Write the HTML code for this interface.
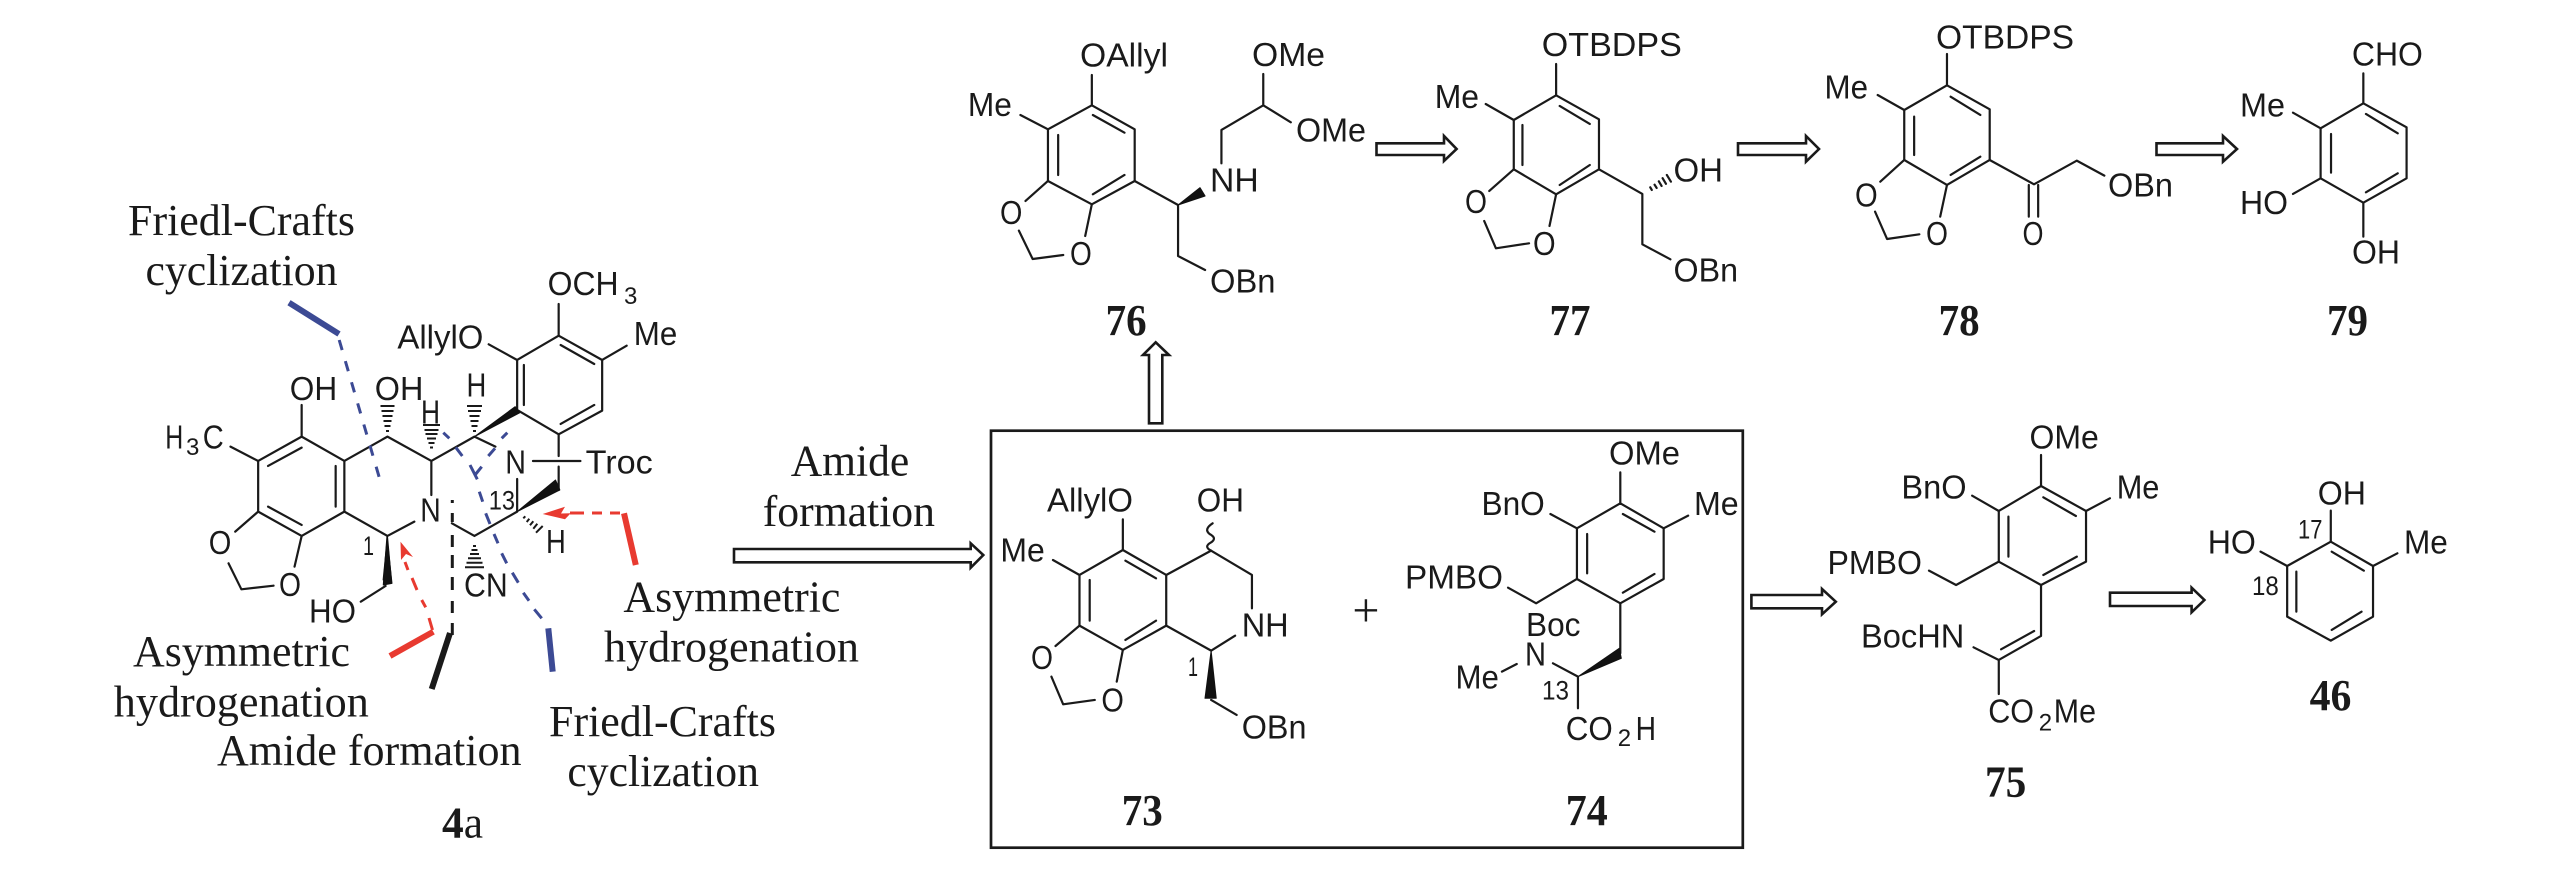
<!DOCTYPE html>
<html>
<head>
<meta charset="utf-8">
<style>
html,body{margin:0;padding:0;background:#fff;width:2567px;height:884px;overflow:hidden}
svg{display:block}
.l path,.l polygon{vector-effect:non-scaling-stroke}
.l{fill:none;stroke:#1a1a1a;stroke-width:2.2;stroke-linecap:round;stroke-linejoin:round}
.f polygon,.f path{fill:#111;stroke:#111;stroke-width:1}
.a{fill:#fff;stroke:#1a1a1a;stroke-width:2.6;stroke-linejoin:miter}
text{fill:#1a1a1a}
.s{font:33px "Liberation Sans",sans-serif}
.n{font:27px "Liberation Sans",sans-serif}
.u{font:24px "Liberation Sans",sans-serif}
.t{font:44px "Liberation Serif",serif}
.b{font:bold 44px "Liberation Serif",serif}
</style>
</head>
<body>
<svg width="2567" height="884" viewBox="0 0 2567 884" xmlns="http://www.w3.org/2000/svg">
<rect width="2567" height="884" fill="#fff"/>

<!-- 4a skeleton -->
<g class="l" transform="translate(100,180) scale(0.3954,0.3333)">
<path d="M510,770L618,843L618,995L510,1068L400,995L400,843Z"/>
<path d="M425,858L510,803M596,858L596,980M425,980L510,1035M510,770L510,675M400,843L330,800M400,995L342,1055M510,1068L492,1160"/>
<path d="M618,843L727,770L838,843L947,770L1000,800M838,843L838,945M795,1025L727,1068L618,995"/>
<path d="M1055,540L1160,467L1270,540L1270,692L1160,763L1055,690Z"/>
<path d="M1072,555L1072,675M1165,495L1250,552M1250,675L1165,732M1160,467L1160,372M1055,540L983,493M1270,540L1332,497M1160,763L1160,828M1095,843L1215,843M1160,860L1160,930M1055,897L1055,995M890,1030L947,1068L1055,995"/>
</g>
<g class="l f" transform="translate(100,180) scale(0.3954,0.3333)">
<polygon points="947,770 1050,680 1062,698"/>
<polygon points="1055,995 1152,900 1163,930"/>
<polygon points="727,1068 716,1200 737,1200"/>
</g>
<g class="l" transform="translate(100,500) scale(0.4591,0.3333)">
<path d="M280,190L308,268L378,257M622,258L568,305"/>
</g>
<g class="l f" transform="translate(100,500) scale(0.4591,0.3333)">
<polygon points="625,108 617,255 636,250"/>
</g>
<!-- hash bonds 4a -->
<g fill="none" stroke="#1a1a1a" stroke-width="2">
<path d="M386,431H389M384.5,426H390.5M383.5,421H391.5M382.5,416H392.5M381.5,411H393.5M380.5,406H394.5"/>
<path d="M430,447.5H433M428.5,443H434.5M427,438.5H436M425.5,434H437.5M424.5,430H438.5M423,425H440"/>
<path d="M473,431H476M471.5,426H477.5M470.5,421H478.5M469.5,416H479.5M468,411H481M467,406H482"/>
<path d="M523.3,518.3L525.3,516.3M526.7,522L529.3,518.7M530,525.3L533.3,521.3M533.3,528.7L537.3,523.7M536,532.7L542.7,526"/>
<path d="M473,546H476M471.5,550H477.5M470,554H479M468,558.3H481M466.5,562.7H482.5M465,567.3H484"/>
</g>
<!-- black dashed + thick -->
<g fill="none" stroke="#1a1a1a">
<path d="M452.3,500V503M452.3,513V522M452.3,535V547M452.3,555V568M452.3,577V590M452.3,601V613M452.3,623V635" stroke-width="3"/>
<path d="M450,633L431.7,689" stroke-width="6"/>
</g>
<!-- blue -->
<g fill="none" stroke="#3c4a94">
<path d="M289,302.7L339,334" stroke-width="6"/>
<path d="M339.2,340L380,480" stroke-width="3" stroke-dasharray="10.5 11.5"/>
<path d="M443.3,432.7L449.3,438.3M455.7,447.3L462.3,456M470,465L477.3,479.3M481.7,466.7L475,475M488.3,456L495,448.3M501.7,438.3L507.3,432.7M479.3,491.7L482.7,501.7M485.7,513.3L490,524M494,534L498,543.3M501.7,553.3L506.7,563.3M512.3,572.7L518.3,582.7M523.3,592.7L529,600.7M534.3,609.3L541.7,618.3" stroke-width="3"/>
<path d="M548.3,628.3L552.7,671.7" stroke-width="6"/>
</g>
<!-- red -->
<g fill="none" stroke="#e83a30">
<path d="M390,656L433.3,631.7" stroke-width="6"/>
<path d="M429,618L432.5,630M421.7,600L425.7,607.3M412,578L417,590M405,562L408,570" stroke-width="3"/>
<path d="M624,513.3L635.8,565" stroke-width="6"/>
<path d="M570,513H584M592,513H602M610,513H620" stroke-width="3"/>
</g>
<polygon points="400.5,541.7 401,560 406,554 413,557" fill="#e83a30"/>
<polygon points="542.7,514 565,506.7 561,513.5 570.7,513.3 565,519.3" fill="#e83a30"/>

<!-- 76 / 77 -->
<g class="l" transform="translate(950,0) scale(0.5102,0.3333)">
<path d="M278,316L362,388L362,543L278,613L192,543L192,388Z"/>
<path d="M280,345L342,398M212,405L212,525M280,583L342,525M278,316L278,225M192,388L138,345M192,543L148,603M278,613L265,708M135,692L162,777L222,765M362,543L447,615L447,768L500,810M532,490L532,390L614,316L668,367M614,316L614,222"/>
<path d="M1188,286L1272,358L1272,508L1188,583L1105,508L1105,360Z"/>
<path d="M1195,318L1254,372M1122,375L1122,495M1195,555L1254,495M1188,286L1188,192M1105,360L1050,312M1105,508L1057,573M1188,583L1175,678M1047,663L1070,745L1135,730M1272,508L1357,582L1357,733L1412,778"/>
<path d="M1372.5,562L1375.5,570M1381,554L1385,564M1389.3,544L1394.7,558M1396.7,534.5L1403.3,551.5M1405,525L1413,545"/>
</g>
<g class="l f" transform="translate(950,0) scale(0.5102,0.3333)">
<polygon points="447,615 490,563 500,588"/>
</g>

<!-- 78 / 79 -->
<g class="l" transform="translate(1750,0) scale(0.5211,0.3333)">
<path d="M378,256L460,328L460,480L378,555L296,480L296,330Z"/>
<path d="M385,290L442,345M315,350L315,465M385,525L442,470M378,256L378,162M296,330L245,285M296,480L250,545M378,555L365,650M240,635L263,717L325,703M460,480L545,553L627,482L680,527M535,555L535,650M553,555L553,650"/>
<path d="M1177,310L1260,382L1260,535L1177,608L1095,535L1095,385Z"/>
<path d="M1182,342L1243,400M1115,402L1115,518M1182,577L1243,520M1177,310L1177,220M1095,385L1042,338M1095,535L1042,582M1177,608L1177,710"/>
</g>

<!-- 73 / 74 -->
<g class="l" transform="translate(980,410) scale(0.5102,0.3333)">
<path d="M280,420L365,495L365,647L280,720L195,647L195,495Z"/>
<path d="M285,452L345,505M215,510L215,632M285,690L345,632M280,420L280,328M195,495L143,450M195,647L148,708M280,720L268,815M140,800L163,883L225,870M365,495L453,422L533,495L533,595M500,677L453,722L365,647M453,870L503,915"/>
<path d="M453,422Q438,410 452,398Q466,385 450,372Q438,358 456,340"/>
<path d="M1255,280L1340,355L1340,507L1255,580L1170,507L1170,355Z"/>
<path d="M1260,312L1322,365M1190,372L1190,490M1260,548L1322,492M1255,280L1255,187M1170,355L1118,312M1340,355L1388,317M1170,507L1090,580L1035,533M1255,580L1255,730M1172,800L1123,760M1052,762L1023,785M1172,800L1172,895"/>
</g>
<g class="l f" transform="translate(980,410) scale(0.5102,0.3333)">
<polygon points="453,722 441,865 463,865"/>
<polygon points="1172,800 1253,715 1257,745"/>
</g>

<!-- 75 / 46 -->
<g class="l" transform="translate(1760,410) scale(0.4592,0.3333)">
<path d="M612,228L710,303L710,455L612,525L520,455L520,303Z"/>
<path d="M617,262L688,318M541,320L541,440M617,495L690,440M612,228L612,135M520,303L462,257M710,303L762,265M520,455L427,525L368,482M612,525L612,678L520,750L465,712M525,718L597,663M520,750L520,852"/>
<path d="M1243,395L1335,468L1335,620L1243,692L1148,620L1148,468Z"/>
<path d="M1245,425L1315,482M1168,485L1168,605M1245,660L1310,605M1243,395L1243,302M1148,468L1090,425M1335,468L1388,430"/>
</g>

<!-- box -->
<rect x="991" y="430.7" width="751.8" height="417" fill="none" stroke="#1a1a1a" stroke-width="2.7"/>

<!-- open arrows -->
<polygon class="a" points="734,549 970.7,549 970.7,543.3 983.3,555 970.7,567.7 970.7,562.3 734,562.3"/>
<polygon class="a" points="1149,423.3 1162.3,423.3 1162.3,355 1169,355 1155.7,342.3 1143,355 1149,355"/>
<polygon class="a" points="1376.5,143.3 1444,143.3 1444,136 1456.6,149 1444,161 1444,155 1376.5,155"/>
<polygon class="a" points="1738,143.3 1806,143.3 1806,136 1819,149 1806,161.7 1806,155 1738,155"/>
<polygon class="a" points="2156.5,143.3 2223,143.3 2223,136 2237,149 2223,161.7 2223,155 2156.5,155"/>
<polygon class="a" points="1751.4,595 1822,595 1822,589 1835.8,601.7 1822,614.3 1822,608.3 1751.4,608.3"/>
<polygon class="a" points="2110,592.7 2191.6,592.7 2191.6,587.7 2204.4,600 2191.6,612.3 2191.6,606 2110,606"/>

<!-- serif labels -->
<text class="t" x="128" y="235" textLength="227" lengthAdjust="spacingAndGlyphs">Friedl-Crafts</text>
<text class="t" x="145.5" y="285" textLength="192" lengthAdjust="spacingAndGlyphs">cyclization</text>
<text class="t" x="133" y="666" textLength="217" lengthAdjust="spacingAndGlyphs">Asymmetric</text>
<text class="t" x="113.8" y="716.7" textLength="255" lengthAdjust="spacingAndGlyphs">hydrogenation</text>
<text class="t" x="217" y="765" textLength="304.5" lengthAdjust="spacingAndGlyphs">Amide formation</text>
<text class="t" x="549" y="736" textLength="227" lengthAdjust="spacingAndGlyphs">Friedl-Crafts</text>
<text class="t" x="567.4" y="786" textLength="191.5" lengthAdjust="spacingAndGlyphs">cyclization</text>
<text class="t" x="623.4" y="611.7" textLength="217" lengthAdjust="spacingAndGlyphs">Asymmetric</text>
<text class="t" x="604" y="661.7" textLength="255" lengthAdjust="spacingAndGlyphs">hydrogenation</text>
<text class="t" x="790.7" y="475.7" textLength="118.6" lengthAdjust="spacingAndGlyphs">Amide</text>
<text class="t" x="762.7" y="526" textLength="172.3" lengthAdjust="spacingAndGlyphs">formation</text>
<text class="t" x="442" y="837.3" textLength="41" lengthAdjust="spacingAndGlyphs"><tspan font-weight="bold">4</tspan>a</text>
<text class="t" x="1352.4" y="626" style="font-size:48px">+</text>

<!-- compound numbers -->
<text class="b" x="1105.6" y="335" textLength="41" lengthAdjust="spacingAndGlyphs">76</text>
<text class="b" x="1549.5" y="335" textLength="41" lengthAdjust="spacingAndGlyphs">77</text>
<text class="b" x="1938.6" y="335" textLength="41" lengthAdjust="spacingAndGlyphs">78</text>
<text class="b" x="2327" y="335" textLength="41" lengthAdjust="spacingAndGlyphs">79</text>
<text class="b" x="1121.8" y="825" textLength="41" lengthAdjust="spacingAndGlyphs">73</text>
<text class="b" x="1565.7" y="825" textLength="42" lengthAdjust="spacingAndGlyphs">74</text>
<text class="b" x="1985" y="796.7" textLength="41.3" lengthAdjust="spacingAndGlyphs">75</text>
<text class="b" x="2309.6" y="710" textLength="41.8" lengthAdjust="spacingAndGlyphs">46</text>

<!-- 4a atoms -->
<text class="s" x="547.6" y="295" textLength="71" lengthAdjust="spacingAndGlyphs">OCH</text>
<text class="u" x="624" y="304">3</text>
<text class="s" x="397.4" y="348.3" textLength="86" lengthAdjust="spacingAndGlyphs">AllylO</text>
<text class="s" x="633.8" y="345" textLength="43.5" lengthAdjust="spacingAndGlyphs">Me</text>
<text class="s" x="289.8" y="400" textLength="47.4" lengthAdjust="spacingAndGlyphs">OH</text>
<text class="s" x="374.8" y="400" textLength="48.6" lengthAdjust="spacingAndGlyphs">OH</text>
<text class="s" x="421" y="423.3" textLength="19" lengthAdjust="spacingAndGlyphs">H</text>
<text class="s" x="466.5" y="396.7" textLength="19.8" lengthAdjust="spacingAndGlyphs">H</text>
<text class="s" x="165.2" y="448.3" textLength="18" lengthAdjust="spacingAndGlyphs">H</text>
<text class="u" x="186" y="455">3</text>
<text class="s" x="202.8" y="448.3" textLength="21" lengthAdjust="spacingAndGlyphs">C</text>
<text class="s" x="505.3" y="473.3" textLength="20.7" lengthAdjust="spacingAndGlyphs">N</text>
<text class="s" x="585.6" y="473.3" textLength="67.2" lengthAdjust="spacingAndGlyphs">Troc</text>
<text class="s" x="420.3" y="521.7" textLength="20.5" lengthAdjust="spacingAndGlyphs">N</text>
<text class="n" x="488.7" y="509.3" textLength="26.3" lengthAdjust="spacingAndGlyphs">13</text>
<text class="n" x="363" y="555" textLength="11" lengthAdjust="spacingAndGlyphs">1</text>
<text class="s" x="208.7" y="554" textLength="22.6" lengthAdjust="spacingAndGlyphs">O</text>
<text class="s" x="546" y="553" textLength="19.8" lengthAdjust="spacingAndGlyphs">H</text>
<text class="s" x="464" y="596.7" textLength="43.7" lengthAdjust="spacingAndGlyphs">CN</text>
<text class="s" x="279" y="596" textLength="22" lengthAdjust="spacingAndGlyphs">O</text>
<text class="s" x="309" y="622.7" textLength="47" lengthAdjust="spacingAndGlyphs">HO</text>

<!-- 76 atoms -->
<text class="s" x="1080" y="66.7" textLength="88" lengthAdjust="spacingAndGlyphs">OAllyl</text>
<text class="s" x="1252" y="66" textLength="73" lengthAdjust="spacingAndGlyphs">OMe</text>
<text class="s" x="967.9" y="116" textLength="44" lengthAdjust="spacingAndGlyphs">Me</text>
<text class="s" x="1296" y="141.7" textLength="70" lengthAdjust="spacingAndGlyphs">OMe</text>
<text class="s" x="1210" y="191.7" textLength="48.7" lengthAdjust="spacingAndGlyphs">NH</text>
<text class="s" x="1000" y="224" textLength="22.4" lengthAdjust="spacingAndGlyphs">O</text>
<text class="s" x="1070" y="265" textLength="21.8" lengthAdjust="spacingAndGlyphs">O</text>
<text class="s" x="1210" y="292.3" textLength="65.5" lengthAdjust="spacingAndGlyphs">OBn</text>

<!-- 77 atoms -->
<text class="s" x="1541.8" y="56" textLength="140" lengthAdjust="spacingAndGlyphs">OTBDPS</text>
<text class="s" x="1434.7" y="108" textLength="44.3" lengthAdjust="spacingAndGlyphs">Me</text>
<text class="s" x="1673.5" y="181.7" textLength="49.5" lengthAdjust="spacingAndGlyphs">OH</text>
<text class="s" x="1465" y="213" textLength="22" lengthAdjust="spacingAndGlyphs">O</text>
<text class="s" x="1533" y="255" textLength="22.6" lengthAdjust="spacingAndGlyphs">O</text>
<text class="s" x="1673.5" y="281.7" textLength="64.5" lengthAdjust="spacingAndGlyphs">OBn</text>

<!-- 78 atoms -->
<text class="s" x="1936" y="48.3" textLength="138" lengthAdjust="spacingAndGlyphs">OTBDPS</text>
<text class="s" x="1824.5" y="98.3" textLength="43.5" lengthAdjust="spacingAndGlyphs">Me</text>
<text class="s" x="1855" y="206.7" textLength="22.7" lengthAdjust="spacingAndGlyphs">O</text>
<text class="s" x="1926" y="245" textLength="22" lengthAdjust="spacingAndGlyphs">O</text>
<text class="s" x="2022.5" y="245" textLength="21" lengthAdjust="spacingAndGlyphs">O</text>
<text class="s" x="2108" y="196.7" textLength="65" lengthAdjust="spacingAndGlyphs">OBn</text>

<!-- 79 atoms -->
<text class="s" x="2351.9" y="65.7" textLength="71" lengthAdjust="spacingAndGlyphs">CHO</text>
<text class="s" x="2240" y="116.7" textLength="45" lengthAdjust="spacingAndGlyphs">Me</text>
<text class="s" x="2240" y="214" textLength="48" lengthAdjust="spacingAndGlyphs">HO</text>
<text class="s" x="2352" y="263.3" textLength="48" lengthAdjust="spacingAndGlyphs">OH</text>

<!-- 73 atoms -->
<text class="s" x="1047" y="511.7" textLength="86" lengthAdjust="spacingAndGlyphs">AllylO</text>
<text class="s" x="1196.8" y="511.7" textLength="47.2" lengthAdjust="spacingAndGlyphs">OH</text>
<text class="s" x="1000.4" y="561.7" textLength="44.4" lengthAdjust="spacingAndGlyphs">Me</text>
<text class="s" x="1031" y="669" textLength="22" lengthAdjust="spacingAndGlyphs">O</text>
<text class="s" x="1101.4" y="711.7" textLength="22.5" lengthAdjust="spacingAndGlyphs">O</text>
<text class="s" x="1241.7" y="636.7" textLength="47" lengthAdjust="spacingAndGlyphs">NH</text>
<text class="n" x="1188" y="676" textLength="10" lengthAdjust="spacingAndGlyphs">1</text>
<text class="s" x="1241.7" y="738.3" textLength="64.8" lengthAdjust="spacingAndGlyphs">OBn</text>

<!-- 74 atoms -->
<text class="s" x="1609" y="464.3" textLength="71" lengthAdjust="spacingAndGlyphs">OMe</text>
<text class="s" x="1481.5" y="515" textLength="63.3" lengthAdjust="spacingAndGlyphs">BnO</text>
<text class="s" x="1694" y="515" textLength="44.7" lengthAdjust="spacingAndGlyphs">Me</text>
<text class="s" x="1405" y="588.3" textLength="98" lengthAdjust="spacingAndGlyphs">PMBO</text>
<text class="s" x="1526" y="636" textLength="54.5" lengthAdjust="spacingAndGlyphs">Boc</text>
<text class="s" x="1525" y="665.7" textLength="21" lengthAdjust="spacingAndGlyphs">N</text>
<text class="s" x="1455.5" y="688.3" textLength="43.4" lengthAdjust="spacingAndGlyphs">Me</text>
<text class="n" x="1542" y="699.3" textLength="27" lengthAdjust="spacingAndGlyphs">13</text>
<text class="s" x="1565.7" y="740" textLength="47" lengthAdjust="spacingAndGlyphs">CO</text>
<text class="u" x="1617.8" y="746">2</text>
<text class="s" x="1635.6" y="740" textLength="20.4" lengthAdjust="spacingAndGlyphs">H</text>

<!-- 75 atoms -->
<text class="s" x="2029.5" y="448.3" textLength="69.3" lengthAdjust="spacingAndGlyphs">OMe</text>
<text class="s" x="1901.4" y="498.3" textLength="65.2" lengthAdjust="spacingAndGlyphs">BnO</text>
<text class="s" x="2116.7" y="498.3" textLength="42.7" lengthAdjust="spacingAndGlyphs">Me</text>
<text class="s" x="1827.5" y="574" textLength="94.5" lengthAdjust="spacingAndGlyphs">PMBO</text>
<text class="s" x="1861" y="647.3" textLength="103.3" lengthAdjust="spacingAndGlyphs">BocHN</text>
<text class="s" x="1988.2" y="722.3" textLength="45.8" lengthAdjust="spacingAndGlyphs">CO</text>
<text class="u" x="2038.7" y="730.7">2</text>
<text class="s" x="2053.8" y="722.3" textLength="42.2" lengthAdjust="spacingAndGlyphs">Me</text>

<!-- 46 atoms -->
<text class="s" x="2317.8" y="504.3" textLength="48.2" lengthAdjust="spacingAndGlyphs">OH</text>
<text class="s" x="2207.7" y="553.3" textLength="48.2" lengthAdjust="spacingAndGlyphs">HO</text>
<text class="s" x="2404" y="553.3" textLength="43.8" lengthAdjust="spacingAndGlyphs">Me</text>
<text class="n" x="2298" y="538.3" textLength="24.4" lengthAdjust="spacingAndGlyphs">17</text>
<text class="n" x="2252" y="595" textLength="26.8" lengthAdjust="spacingAndGlyphs">18</text>
</svg>
</body>
</html>
